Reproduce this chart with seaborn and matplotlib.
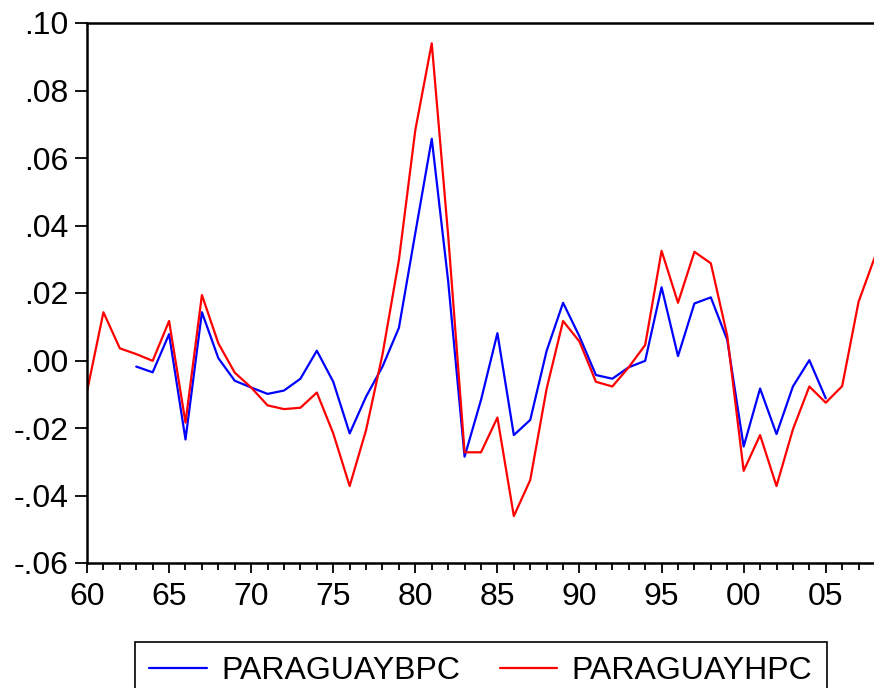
import numpy as np
import pandas as pd
import matplotlib
matplotlib.use("Agg")
import matplotlib.pyplot as plt
from matplotlib.ticker import MultipleLocator, FixedLocator
import seaborn as sns

years = list(range(1960, 2009))
hpc = [-0.0092, 0.0143, 0.0036, 0.0019, -0.0001, 0.0117, -0.0184, 0.0194, 0.0051, -0.0036,
       -0.0080, -0.0133, -0.0144, -0.0140, -0.0095, -0.0216, -0.0372, -0.0206, 0.0018, 0.0298,
       0.0683, 0.0940, 0.0370, -0.0272, -0.0272, -0.0169, -0.0461, -0.0354, -0.0083, 0.0117,
       0.0056, -0.0063, -0.0077, -0.0020, 0.0046, 0.0325, 0.0171, 0.0322, 0.0288, 0.0073,
       -0.0327, -0.0221, -0.0372, -0.0204, -0.0077, -0.0125, -0.0076, 0.0174, 0.0308]
bpc = [np.nan, np.nan, np.nan, -0.0018, -0.0035, 0.0078, -0.0234, 0.0143, 0.0007, -0.0060,
       -0.0080, -0.0099, -0.0089, -0.0054, 0.0029, -0.0063, -0.0216, -0.0107, -0.0018, 0.0097,
       0.0378, 0.0657, 0.0235, -0.0285, -0.0117, 0.0081, -0.0221, -0.0176, 0.0029, 0.0171,
       0.0071, -0.0043, -0.0054, -0.0020, -0.0001, 0.0217, 0.0013, 0.0169, 0.0187, 0.0061,
       -0.0255, -0.0083, -0.0218, -0.0077, 0.0001, -0.0112, np.nan, np.nan, np.nan]
series_names = ["PARAGUAYBPC", "PARAGUAYHPC"]
x_tick_years = [1960, 1965, 1970, 1975, 1980, 1985, 1990, 1995, 2000, 2005]
x_tick_labels = ["60", "65", "70", "75", "80", "85", "90", "95", "00", "05"]
y_ticks = [-0.06, -0.04, -0.02, 0.00, 0.02, 0.04, 0.06, 0.08, 0.10]
y_tick_labels = ["-.06", "-.04", "-.02", ".00", ".02", ".04", ".06", ".08", ".10"]

sns.set_style("ticks")
plt.rcParams["font.family"] = ["Liberation Sans", "DejaVu Sans"]
plt.rcParams["text.color"] = "black"

df = pd.DataFrame({"year": years, series_names[0]: bpc, series_names[1]: hpc})

fig = plt.figure(figsize=(8.74, 6.88), dpi=100)
ax = fig.add_axes([87 / 874, 125 / 688, 1.0 - 87 / 874 + 1 / 874, (563 - 23) / 688])

sns.lineplot(data=df, x="year", y=series_names[0], ax=ax, color="#0000ff", lw=1.6,
             label=series_names[0])
sns.lineplot(data=df, x="year", y=series_names[1], ax=ax, color="#ff0000", lw=1.6,
             label=series_names[1])

ax.set_xlim(1960, 2008)
ax.set_ylim(-0.06, 0.10)
ax.xaxis.set_major_locator(FixedLocator(x_tick_years))
ax.set_xticklabels(x_tick_labels)
ax.xaxis.set_minor_locator(MultipleLocator(1))
ax.yaxis.set_major_locator(FixedLocator(y_ticks))
ax.set_yticklabels(y_tick_labels)
ax.set_xlabel("")
ax.set_ylabel("")
ax.tick_params(axis="both", which="major", direction="out", length=8.5, width=1.3,
               labelsize=23, colors="black", labelcolor="black")
ax.tick_params(axis="y", which="major", pad=5)
ax.tick_params(axis="x", which="major", length=7.5, pad=6)
ax.tick_params(axis="x", which="minor", direction="out", length=5, width=1.3, colors="black")
ax.tick_params(axis="y", which="minor", length=0)
for s in ["left", "bottom", "top"]:
    ax.spines[s].set_visible(True)
    ax.spines[s].set_linewidth(1.8)
    ax.spines[s].set_color("black")
ax.spines["right"].set_visible(False)
ax.grid(False)

ax.get_legend().remove()
handles, labels = ax.get_legend_handles_labels()
leg = fig.legend(handles, labels, loc="upper left", bbox_to_anchor=(135 / 874, 1 - 642 / 688),
                 ncol=2, frameon=True, fancybox=False, edgecolor="black", framealpha=1,
                 fontsize=23, handlelength=1.8, handletextpad=0.44, columnspacing=1.25,
                 borderaxespad=0, borderpad=0.45)
for t in leg.get_texts():
    t.set_color("black")
leg.get_frame().set_linewidth(1.2)

fig.savefig("out.png", dpi=100)
